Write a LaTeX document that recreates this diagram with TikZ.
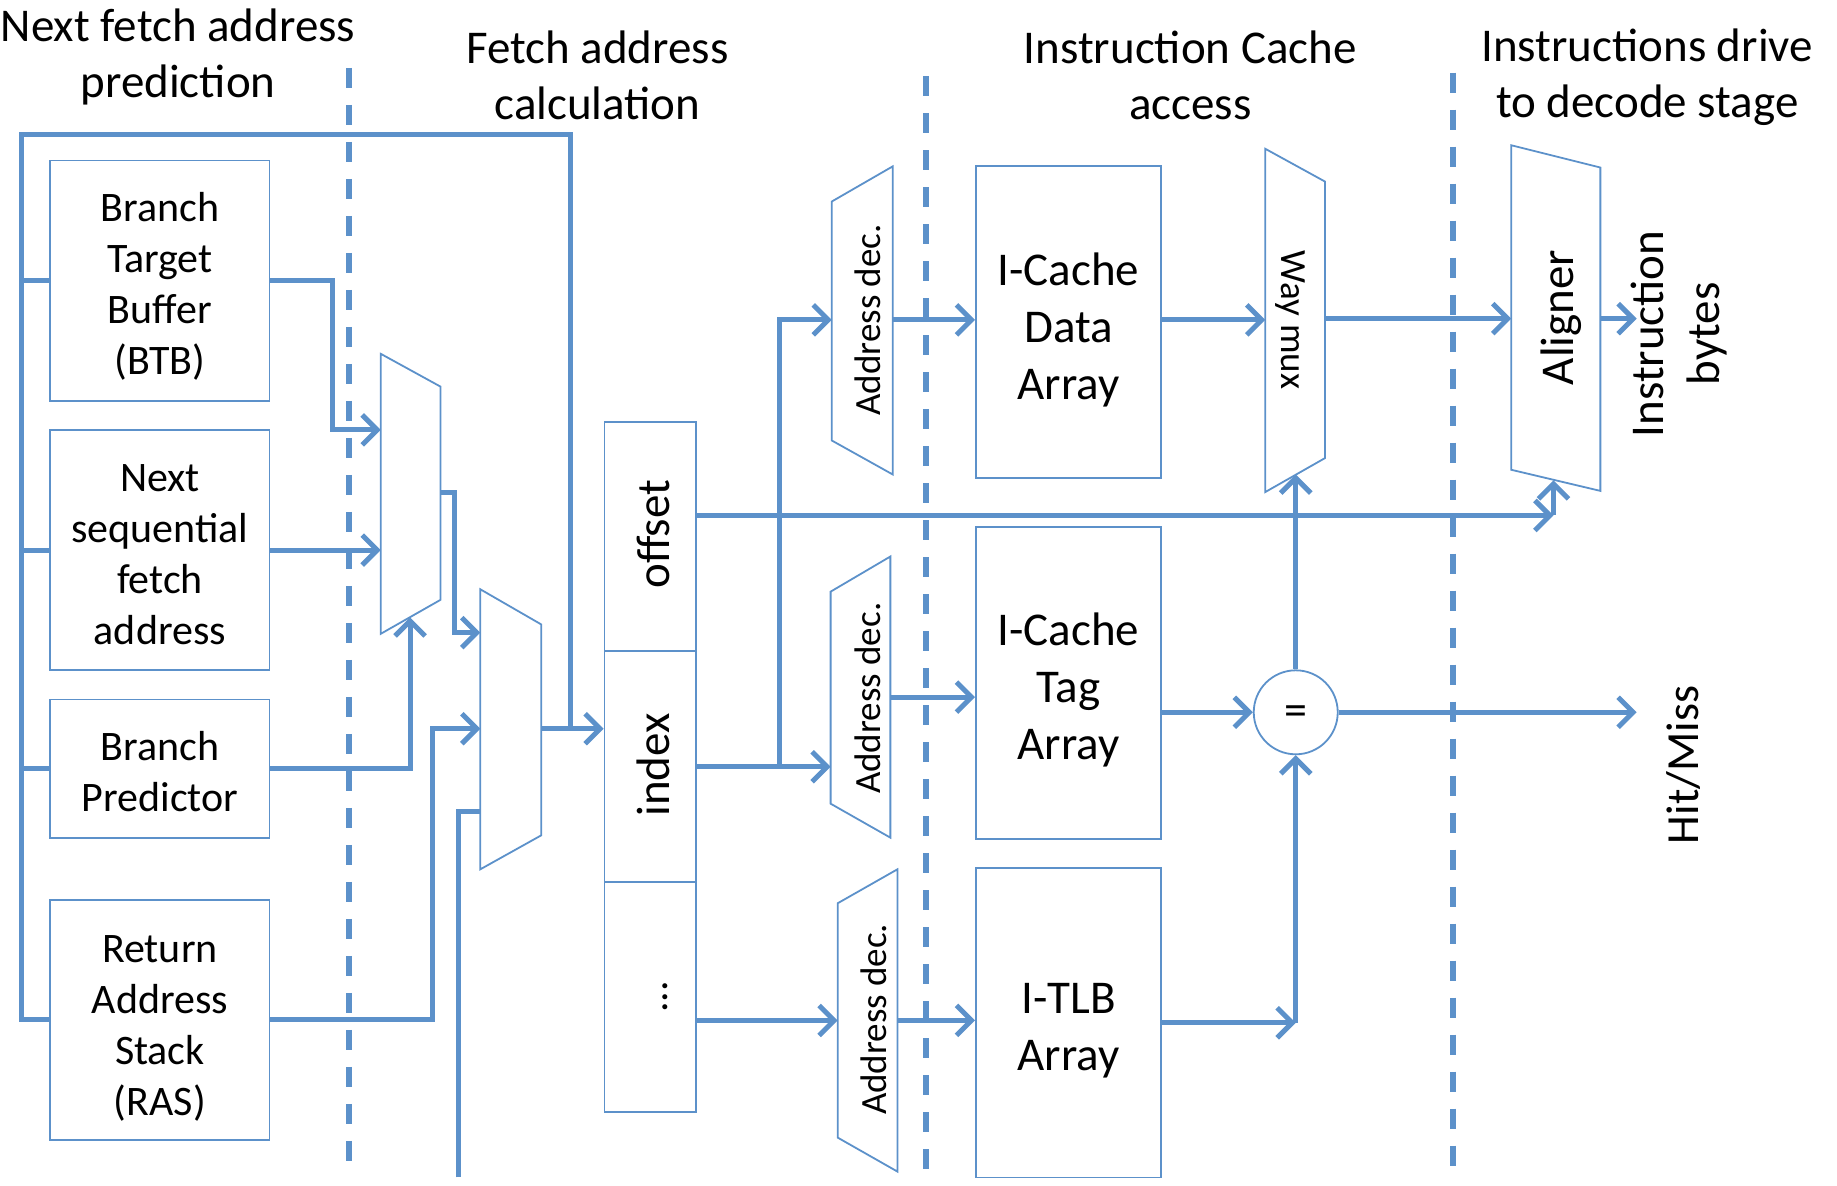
\documentclass[tikz,border=0pt]{standalone}
\usepackage{fontspec}
\setmainfont{Carlito}
\usetikzlibrary{arrows.meta,fit,calc}
\definecolor{lb}{RGB}{92,145,202}
\begin{document}
\begin{tikzpicture}[x=1.1716pt,y=-1.1716pt,
  wire/.style={lb, line width=5pt},
  conn/.style={wire, -{Straight Barb[length=15pt,width=30pt]}},
  box/.style={draw=lb, line width=1.8pt, inner sep=0pt, fill=white},
  btxt/.style={align=center, inner sep=0pt, font=\fontsize{42}{51}\selectfont},
  bigbtxt/.style={align=center, inner sep=0pt, font=\fontsize{47}{57}\selectfont},
  shp/.style={draw=lb, line width=1.8pt, fill=white},
  stage/.style={align=center, font=\fontsize{47}{56}\selectfont},
  adec/.style={font=\fontsize{37}{44}\selectfont, inner sep=0pt},
  bigtxt/.style={align=center, font=\fontsize{47}{56}\selectfont, inner sep=0pt},
  stagesep/.style={lb, line width=6pt, dash pattern=on 20pt off 17pt},
]
\useasboundingbox (0,0) rectangle (1568,1012);

% stage titles
\node[stage] (h1) at (152,49) {Next fetch address\\prediction};
\node[stage] (h2) at (510,64) {Fetch address\\calculation};
\node[stage] (h3) at (1016,64) {Instruction Cache\\access};
\node[stage] (h4) at (1406,66) {Instructions drive\\to decode stage};

% stage separators
\draw[stagesep] (298,58) -- (298,1000);
\draw[stagesep] (790,65) -- (790,1005);
\draw[stagesep] (1240,62) -- (1240,1005);

% predictor boxes
\node[box, fit={(43,137) (230,342)}] (btb) {};
\node[box, fit={(43,367) (230,572)}] (nsf) {};
\node[box, fit={(43,597) (230,715)}] (bp) {};
\node[box, fit={(43,768) (230,973)}] (ras) {};
\node[btxt] (btbt) at ($(btb.center)+(0,5)$) {Branch\\Target\\Buffer\\(BTB)};
\node[btxt] (nsft) at ($(nsf.center)+(0,4)$) {Next\\sequential\\fetch\\address};
\node[btxt] (bpt) at ($(bp.center)+(0,3)$) {Branch\\Predictor};
\node[btxt] (rast) at ($(ras.center)+(0,7)$) {Return\\Address\\Stack\\(RAS)};

% fetch address register
\node[box, fit={(516,360) (594,556)}] (off) {};
\node[box, fit={(516,556) (594,753)}] (idx) {};
\node[box, fit={(516,753) (594,949)}] (dots) {};
\node[bigtxt, rotate=90] (offt) at (558,456) {offset};
\node[bigtxt, rotate=90] (idxt) at (558,653) {index};
\node[bigtxt, rotate=90, font=\fontsize{42}{50}\selectfont] (dott) at (568,851) {...};

% arrays
\node[box, fit={(833,142) (991,408)}] (data) {};
\node[box, fit={(833,450) (991,716)}] (tag) {};
\node[box, fit={(833,741) (991,1005)}] (tlb) {};
\node[bigbtxt] (datat) at ($(data.center)+(0,7)$) {I-Cache\\Data\\Array};
\node[bigbtxt] (tagt) at ($(tag.center)+(0,6)$) {I-Cache\\Tag\\Array};
\node[bigbtxt] (tlbt) at ($(tlb.center)+(0,7)$) {I-TLB\\Array};

% comparator
\node[draw=lb, line width=1.8pt, circle, minimum size=84pt, inner sep=0pt, fill=white] (eq) at (1106,608) {};
\node[inner sep=0pt, font=\fontsize{46}{50}\selectfont] (eqt) at (1106,611) {=};

% muxes and decoders
\coordinate (m1a) at (325,302); \coordinate (m1b) at (376,330);
\coordinate (m1c) at (376,512); \coordinate (m1d) at (325,541);
\draw[shp] (m1a) -- (m1b) -- (m1c) -- (m1d) -- cycle;

\coordinate (m2a) at (410,503); \coordinate (m2b) at (462,533);
\coordinate (m2c) at (462,713); \coordinate (m2d) at (410,742);
\draw[shp] (m2a) -- (m2b) -- (m2c) -- (m2d) -- cycle;

\coordinate (d1a) at (710,172); \coordinate (d1b) at (762,142);
\coordinate (d1c) at (762,405); \coordinate (d1d) at (710,376);
\draw[shp] (d1a) -- (d1b) -- (d1c) -- (d1d) -- cycle;
\node[adec, rotate=90] (d1t) at (741,273) {Address dec.};

\coordinate (d2a) at (709,505); \coordinate (d2b) at (760,475);
\coordinate (d2c) at (760,715); \coordinate (d2d) at (709,686);
\draw[shp] (d2a) -- (d2b) -- (d2c) -- (d2d) -- cycle;
\node[adec, rotate=90] (d2t) at (741,596) {Address dec.};

\coordinate (d3a) at (715,771); \coordinate (d3b) at (766,742);
\coordinate (d3c) at (766,1000); \coordinate (d3d) at (715,971);
\draw[shp] (d3a) -- (d3b) -- (d3c) -- (d3d) -- cycle;
\node[adec, rotate=90] (d3t) at (746,870) {Address dec.};

\coordinate (wm1) at (1080,127); \coordinate (wm2) at (1131,155);
\coordinate (wm3) at (1131,391); \coordinate (wm4) at (1080,420);
\draw[shp] (wm1) -- (wm2) -- (wm3) -- (wm4) -- cycle;
\node[adec, rotate=-90] (wmt) at (1101,273) {Way mux};

\coordinate (al1) at (1290,124); \coordinate (al2) at (1366,143);
\coordinate (al3) at (1366,419); \coordinate (al4) at (1290,401);
\draw[shp] (al1) -- (al2) -- (al3) -- (al4) -- cycle;
\node[bigtxt, rotate=90] (alt) at (1333,271) {Aligner};

% outputs
\node[bigtxt, rotate=90] (ib) at (1433,285) {Instruction\\bytes};
\node[bigtxt, rotate=90, font=\fontsize{46}{55}\selectfont] (hmt) at (1437,653) {Hit/Miss};

% feedback bus
\coordinate (fbA) at (487,115);
\coordinate (fbB) at (18,115);
\coordinate (jfb) at (487,622);
\draw[wire] (jfb) -- (fbA) -- (fbB) -- (fbB |- ras.west) -- (ras.west);
\foreach \b in {btb,nsf,bp} \draw[wire] (fbB |- \b.west) -- (\b.west);

% into mux 1
\coordinate (m1i1) at (325,367);
\coordinate (m1s) at (350,527);
\draw[conn] (btb.east) -- ++(53,0) |- (m1i1);
\draw[conn] (nsf.east) -- (nsf.east -| m1a);
\draw[conn] (bp.east) -| (m1s);

% into mux 2
\coordinate (m1o) at (376,420);
\coordinate (m2i1) at (410,540);
\coordinate (m2i2) at (410,622);
\coordinate (s0) at (391,1005);
\coordinate (m2s) at (410,693);
\draw[conn] (m1o) -- ++(12,0) |- (m2i1);
\draw[conn] (ras.east) -- ++(138,0) |- (m2i2);
\draw[wire] (s0) |- (m2s);

% mux 2 to register
\coordinate (m2o) at (462,622);
\draw[conn] (m2o) -- (m2o -| idx.west);

% offset to aligner
\coordinate (offT) at (1326,440);
\coordinate (alb) at (1326,410);
\draw[conn] (off.east |- offT) -- (offT);
\draw[conn] (offT) -- (alb);

% index to decoders
\coordinate (d2i) at (709,654.5);
\coordinate (brp) at (665,654.5);
\coordinate (d1i) at (710,273);
\draw[conn] (idx.east) -- (d2i);
\draw[conn] (brp) |- (d1i);

% data path
\coordinate (d1o) at (762,273);
\draw[conn] (d1o) -- (d1o -| data.west);
\draw[conn] (d1o -| data.east) -- (d1o -| wm1);
\coordinate (wmo) at (1131,272);
\draw[conn] (wmo) -- (wmo -| al1);
\coordinate (alo) at (1366,272);
\coordinate (ibt) at (1397,272);
\draw[conn] (alo) -- (ibt);

% tag path
\coordinate (d2o) at (760,595);
\draw[conn] (d2o) -- (d2o -| tag.west);
\draw[conn] (eq.west -| tag.east) -- (eq.west);
\coordinate (wmb) at (1106,405);
\draw[conn] (eq.north) -- (wmb);
\coordinate (hm) at (1397,608);
\draw[conn] (eq.east) -- (hm);

% TLB path
\coordinate (d3i) at (715,871);
\draw[conn] (dots.east |- d3i) -- (d3i);
\coordinate (d3o) at (766,871);
\draw[conn] (d3o) -- (d3o -| tlb.west);
\coordinate (tq) at (1106,873);
\draw[conn] (tlb.east |- tq) -- (tq);
\draw[conn] (tq) -- (eq.south);
\end{tikzpicture}
\end{document}
